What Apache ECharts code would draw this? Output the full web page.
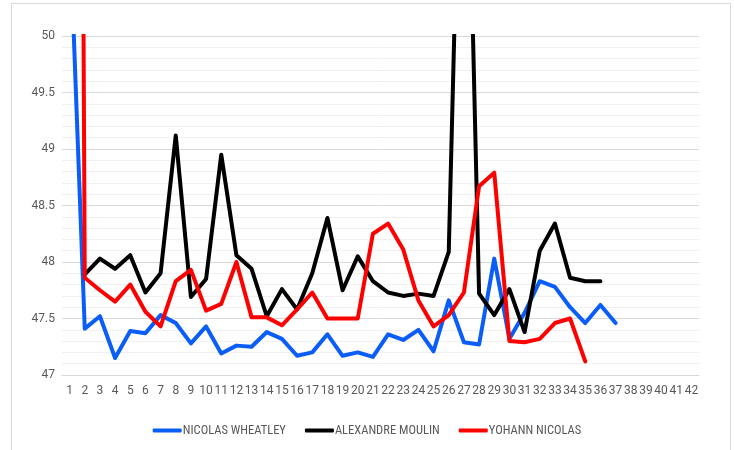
<!DOCTYPE html>
<html>
<head>
<meta charset="utf-8">
<script src="https://cdn.jsdelivr.net/npm/echarts@6/dist/echarts.min.js"></script>
<style>
  html, body { margin: 0; padding: 0; background: #fff; }
  .frame {
    position: absolute; left: 11px; top: 3px; width: 720px; height: 452px;
    border: 1px solid #d9d9d9; box-sizing: border-box;
  }
  #chart { position: absolute; left: 0; top: 0; width: 734px; height: 450px; }
</style>
</head>
<body>
<div class="frame"></div>
<div id="chart"></div>
<script>
  const categories = []
  for (let i = 1; i <= 42; i++) categories.push(String(i))

  const seriesNames = ['NICOLAS WHEATLEY', 'ALEXANDRE MOULIN', 'YOHANN NICOLAS']

  const wheatley = [51.0, 47.41, 47.52, 47.15, 47.39, 47.37, 47.53, 47.46, 47.28, 47.43,
    47.19, 47.26, 47.25, 47.38, 47.32, 47.17, 47.20, 47.36, 47.17, 47.20,
    47.16, 47.36, 47.31, 47.40, 47.21, 47.66, 47.29, 47.27, 48.03, 47.32,
    47.55, 47.83, 47.78, 47.60, 47.46, 47.62, 47.46]

  const moulin = [null, 47.89, 48.03, 47.94, 48.06, 47.73, 47.90, 49.12, 47.69, 47.85,
    48.95, 48.06, 47.94, 47.52, 47.76, 47.58, 47.90, 48.39, 47.75, 48.05,
    47.83, 47.73, 47.70, 47.72, 47.70, 48.09, 53.4, 47.72, 47.53, 47.76,
    47.38, 48.10, 48.34, 47.86, 47.83, 47.83]

  const yohann = [75, 47.86, 47.75, 47.65, 47.80, 47.56, 47.43, 47.83, 47.93, 47.57,
    47.63, 48.00, 47.51, 47.51, 47.44, 47.58, 47.73, 47.50, 47.50, 47.50,
    48.25, 48.34, 48.11, 47.66, 47.43, 47.53, 47.73, 48.67, 48.79, 47.30,
    47.29, 47.32, 47.46, 47.50, 47.12]

  const colors = ['#0a5ef7', '#000000', '#ff0000']
  const yTicks = { min: 47, max: 50, interval: 0.5 }

  const chart = echarts.init(document.getElementById('chart'))
  const textColor = '#595959'
  const font = 'Roboto, "Liberation Sans", sans-serif'
  const legendFont = '"Liberation Sans Narrow", "Roboto Condensed", Roboto, sans-serif'

  const mkLine = (name, data, color) => ({
    name: name,
    type: 'line',
    data: data,
    symbol: 'none',
    clip: true,
    connectNulls: false,
    lineStyle: { width: 4, color: color, join: 'round', cap: 'round' },
    itemStyle: { color: color }
  })

  const option = {
    animation: false,
    textStyle: { fontFamily: font },
    grid: { left: 62, right: 35, top: 36, bottom: 75 },
    legend: {
      bottom: 8,
      left: 'center',
      icon: 'roundRect',
      itemWidth: 29,
      itemHeight: 4,
      itemGap: 19,
      textStyle: { color: textColor, fontSize: 12.5, fontFamily: legendFont, padding: [0, 0, 0, -4] },
      data: seriesNames
    },
    xAxis: {
      type: 'category',
      data: categories,
      boundaryGap: true,
      axisLine: { show: true, lineStyle: { color: '#d9d9d9', width: 1 } },
      axisTick: { show: false },
      axisLabel: { color: textColor, fontSize: 12, interval: 0, margin: 10 }
    },
    yAxis: {
      type: 'value',
      min: yTicks.min,
      max: yTicks.max,
      interval: yTicks.interval,
      axisLine: { show: false },
      axisTick: { show: false },
      axisLabel: { color: textColor, fontSize: 12, margin: 7 },
      splitLine: { lineStyle: { color: '#d9d9d9', width: 1 } },
      minorTick: { show: false, splitNumber: 5 },
      minorSplitLine: { show: true, lineStyle: { color: '#f0f0f0', width: 1 } }
    },
    series: [
      mkLine(seriesNames[0], wheatley, colors[0]),
      mkLine(seriesNames[1], moulin, colors[1]),
      mkLine(seriesNames[2], yohann, colors[2])
    ]
  }

  chart.setOption(option)
</script>
</body>
</html>
